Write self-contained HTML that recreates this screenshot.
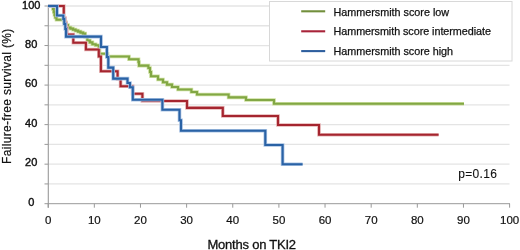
<!DOCTYPE html>
<html><head><meta charset="utf-8"><style>
html,body{margin:0;padding:0;background:#fff;}
body{width:520px;height:250px;overflow:hidden;}
svg{display:block;}
text{font-family:"Liberation Sans",Arial,sans-serif;fill:#111;stroke:#111;stroke-width:0.2px;}
.leg{font-size:10.8px;stroke-width:0.25px;}
.yl{font-size:11px;text-anchor:middle;stroke-width:0.4px;}
.xl{font-size:11.5px;text-anchor:middle;}
.xt{font-size:13px;text-anchor:middle;stroke-width:0.3px;}
.yt{font-size:12px;text-anchor:middle;letter-spacing:0.33px;}
.pv{font-size:12px;letter-spacing:0.3px;stroke-width:0.1px;}
</style></head><body>
<svg width="520" height="250" viewBox="0 0 520 250">
<line x1="48.8" y1="183.93" x2="509.5" y2="183.93" stroke="#e4e4e4" stroke-width="1.3"/>
<line x1="48.8" y1="164.16" x2="509.5" y2="164.16" stroke="#e4e4e4" stroke-width="1.3"/>
<line x1="48.8" y1="144.39" x2="509.5" y2="144.39" stroke="#e4e4e4" stroke-width="1.3"/>
<line x1="48.8" y1="124.62" x2="509.5" y2="124.62" stroke="#e4e4e4" stroke-width="1.3"/>
<line x1="48.8" y1="104.85" x2="509.5" y2="104.85" stroke="#e4e4e4" stroke-width="1.3"/>
<line x1="48.8" y1="85.08" x2="509.5" y2="85.08" stroke="#e4e4e4" stroke-width="1.3"/>
<line x1="48.8" y1="65.31" x2="509.5" y2="65.31" stroke="#e4e4e4" stroke-width="1.3"/>
<line x1="48.8" y1="45.54" x2="509.5" y2="45.54" stroke="#e4e4e4" stroke-width="1.3"/>
<line x1="48.8" y1="25.77" x2="509.5" y2="25.77" stroke="#e4e4e4" stroke-width="1.3"/>
<line x1="48.8" y1="6.00" x2="509.5" y2="6.00" stroke="#e4e4e4" stroke-width="1.3"/>
<line x1="44.5" y1="203.70" x2="48.3" y2="203.70" stroke="#999999" stroke-width="1"/>
<line x1="44.5" y1="183.93" x2="48.3" y2="183.93" stroke="#999999" stroke-width="1"/>
<line x1="44.5" y1="164.16" x2="48.3" y2="164.16" stroke="#999999" stroke-width="1"/>
<line x1="44.5" y1="144.39" x2="48.3" y2="144.39" stroke="#999999" stroke-width="1"/>
<line x1="44.5" y1="124.62" x2="48.3" y2="124.62" stroke="#999999" stroke-width="1"/>
<line x1="44.5" y1="104.85" x2="48.3" y2="104.85" stroke="#999999" stroke-width="1"/>
<line x1="44.5" y1="85.08" x2="48.3" y2="85.08" stroke="#999999" stroke-width="1"/>
<line x1="44.5" y1="65.31" x2="48.3" y2="65.31" stroke="#999999" stroke-width="1"/>
<line x1="44.5" y1="45.54" x2="48.3" y2="45.54" stroke="#999999" stroke-width="1"/>
<line x1="44.5" y1="25.77" x2="48.3" y2="25.77" stroke="#999999" stroke-width="1"/>
<line x1="44.5" y1="6.00" x2="48.3" y2="6.00" stroke="#999999" stroke-width="1"/>
<line x1="48.20" y1="203.70" x2="48.20" y2="207.7" stroke="#999999" stroke-width="1"/>
<line x1="94.34" y1="203.70" x2="94.34" y2="207.7" stroke="#999999" stroke-width="1"/>
<line x1="140.48" y1="203.70" x2="140.48" y2="207.7" stroke="#999999" stroke-width="1"/>
<line x1="186.62" y1="203.70" x2="186.62" y2="207.7" stroke="#999999" stroke-width="1"/>
<line x1="232.76" y1="203.70" x2="232.76" y2="207.7" stroke="#999999" stroke-width="1"/>
<line x1="278.90" y1="203.70" x2="278.90" y2="207.7" stroke="#999999" stroke-width="1"/>
<line x1="325.04" y1="203.70" x2="325.04" y2="207.7" stroke="#999999" stroke-width="1"/>
<line x1="371.18" y1="203.70" x2="371.18" y2="207.7" stroke="#999999" stroke-width="1"/>
<line x1="417.32" y1="203.70" x2="417.32" y2="207.7" stroke="#999999" stroke-width="1"/>
<line x1="463.46" y1="203.70" x2="463.46" y2="207.7" stroke="#999999" stroke-width="1"/>
<line x1="509.60" y1="203.70" x2="509.60" y2="207.7" stroke="#999999" stroke-width="1"/>
<line x1="48.3" y1="6.0" x2="48.3" y2="207.7" stroke="#999999" stroke-width="1.1"/>
<line x1="48" y1="203.70" x2="510" y2="203.70" stroke="#999999" stroke-width="1"/>
<polyline points="48,6 53,6 53,9 53.8,9 53.8,12 54.5,12 54.5,15 55.3,15 55.3,17.5 56.5,17.5 56.5,19.8 62,19.8 64,19.8 64,22.4 66,22.4 66,25 68,25 68,27.6 70.5,27.6 70.5,28.6 73,28.6 73,29.6 75.5,29.6 75.5,30.6 78,30.6 78,31.6 80.5,31.6 80.5,32.6 83,32.6 83,33.6 85.15,33.6 85.15,37.05 87.3,37.05 87.3,40.5 89.85,40.5 89.85,42.4 92.4,42.4 92.4,44.3 95.6,44.3 95.6,45.3 98.8,45.3 98.8,46.3 99.5,46.3 99.5,53.8 107.5,53.8 107.5,56.5 129,56.5 129,59.2 138.5,59.2 138.5,62 139,62 139,65.6 148.4,65.6 148.4,68 150,68 150,72 151,72 151,76.2 158,76.2 158,79.5 163,79.5 163,82.2 167,82.2 167,84.6 172,84.6 172,87 178,87 178,89.5 191.4,89.5 191.4,92 197,92 197,94.5 228.6,94.5 228.6,97.4 246,97.4 246,100 274,100 274,103.8 464,103.8" fill="none" stroke="#cde0a0" stroke-width="3.6" stroke-linejoin="miter" stroke-linecap="butt"/>
<polyline points="48,6 53,6 53,9 53.8,9 53.8,12 54.5,12 54.5,15 55.3,15 55.3,17.5 56.5,17.5 56.5,19.8 62,19.8 64,19.8 64,22.4 66,22.4 66,25 68,25 68,27.6 70.5,27.6 70.5,28.6 73,28.6 73,29.6 75.5,29.6 75.5,30.6 78,30.6 78,31.6 80.5,31.6 80.5,32.6 83,32.6 83,33.6 85.15,33.6 85.15,37.05 87.3,37.05 87.3,40.5 89.85,40.5 89.85,42.4 92.4,42.4 92.4,44.3 95.6,44.3 95.6,45.3 98.8,45.3 98.8,46.3 99.5,46.3 99.5,53.8 107.5,53.8 107.5,56.5 129,56.5 129,59.2 138.5,59.2 138.5,62 139,62 139,65.6 148.4,65.6 148.4,68 150,68 150,72 151,72 151,76.2 158,76.2 158,79.5 163,79.5 163,82.2 167,82.2 167,84.6 172,84.6 172,87 178,87 178,89.5 191.4,89.5 191.4,92 197,92 197,94.5 228.6,94.5 228.6,97.4 246,97.4 246,100 274,100 274,103.8 464,103.8" fill="none" stroke="#82a744" stroke-width="2.1" stroke-linejoin="miter" stroke-linecap="butt"/>
<polyline points="48,6 63.8,6 63.8,18 65,18 65,23 66,23 66,28 66.9,28 66.9,34.6 73.3,34.6 73.3,42.8 85.9,42.8 85.9,49.5 98.8,49.5 98.8,56.5 100.9,56.5 100.9,71.2 117.6,71.2 117.6,79 120.6,79 120.6,86.3 132.6,86.3 132.6,93.7 142.4,93.7 142.4,101 187,101 187,107.9 222.8,107.9 222.8,116 278,116 278,125 319,125 319,134.7 438.6,134.7" fill="none" stroke="#e6b4b4" stroke-width="3.6" stroke-linejoin="miter" stroke-linecap="butt"/>
<polyline points="48,6 63.8,6 63.8,18 65,18 65,23 66,23 66,28 66.9,28 66.9,34.6 73.3,34.6 73.3,42.8 85.9,42.8 85.9,49.5 98.8,49.5 98.8,56.5 100.9,56.5 100.9,71.2 117.6,71.2 117.6,79 120.6,79 120.6,86.3 132.6,86.3 132.6,93.7 142.4,93.7 142.4,101 187,101 187,107.9 222.8,107.9 222.8,116 278,116 278,125 319,125 319,134.7 438.6,134.7" fill="none" stroke="#a5252f" stroke-width="2.1" stroke-linejoin="miter" stroke-linecap="butt"/>
<polyline points="48,6 57,6 57,15.5 63.3,15.5 63.3,19 64.3,19 64.3,24 65.3,24 65.3,29 66,29 66,36.6 101,36.6 101,47 106.9,47 106.9,57 108.3,57 108.3,67.6 113.2,67.6 113.2,78.6 127.5,78.6 127.5,83 130,83 130,87.3 132.8,87.3 132.8,99.7 162.4,99.7 162.4,109.8 179.5,109.8 179.5,120.3 181,120.3 181,130.8 265.3,130.8 265.3,145 282.6,145 282.6,164.2 302.6,164.2" fill="none" stroke="#aac4e4" stroke-width="3.6" stroke-linejoin="miter" stroke-linecap="butt"/>
<polyline points="48,6 57,6 57,15.5 63.3,15.5 63.3,19 64.3,19 64.3,24 65.3,24 65.3,29 66,29 66,36.6 101,36.6 101,47 106.9,47 106.9,57 108.3,57 108.3,67.6 113.2,67.6 113.2,78.6 127.5,78.6 127.5,83 130,83 130,87.3 132.8,87.3 132.8,99.7 162.4,99.7 162.4,109.8 179.5,109.8 179.5,120.3 181,120.3 181,130.8 265.3,130.8 265.3,145 282.6,145 282.6,164.2 302.6,164.2" fill="none" stroke="#2a62a5" stroke-width="2.1" stroke-linejoin="miter" stroke-linecap="butt"/>
<rect x="269.5" y="1.5" width="242.5" height="59.5" fill="#fff" stroke="#d8d8d8" stroke-width="1"/>
<line x1="301.2" y1="11.30" x2="325.2" y2="11.30" stroke="#728f3c" stroke-width="2.1"/>
<text x="333.5" y="15.80" class="leg" textLength="115.6" lengthAdjust="spacing">Hammersmith score low</text>
<line x1="301.2" y1="31.30" x2="325.2" y2="31.30" stroke="#a8243a" stroke-width="2.1"/>
<text x="333.5" y="34.90" class="leg" textLength="157.4" lengthAdjust="spacing">Hammersmith score intermediate</text>
<line x1="301.2" y1="51.10" x2="325.2" y2="51.10" stroke="#2d5e9e" stroke-width="2.1"/>
<text x="333.5" y="55.20" class="leg" textLength="119.6" lengthAdjust="spacing">Hammersmith score high</text>
<text x="31.2" y="205.80" class="yl">0</text>
<text x="31.2" y="166.26" class="yl">20</text>
<text x="31.2" y="126.72" class="yl">40</text>
<text x="31.2" y="87.18" class="yl">60</text>
<text x="31.2" y="47.64" class="yl">80</text>
<text x="31.2" y="8.70" class="yl">100</text>
<text x="48.20" y="223.8" class="xl">0</text>
<text x="94.34" y="223.8" class="xl">10</text>
<text x="140.48" y="223.8" class="xl">20</text>
<text x="186.62" y="223.8" class="xl">30</text>
<text x="232.76" y="223.8" class="xl">40</text>
<text x="278.90" y="223.8" class="xl">50</text>
<text x="325.04" y="223.8" class="xl">60</text>
<text x="371.18" y="223.8" class="xl">70</text>
<text x="417.32" y="223.8" class="xl">80</text>
<text x="463.46" y="223.8" class="xl">90</text>
<text x="509.60" y="223.8" class="xl">100</text>
<text x="251.8" y="248.5" class="xt" textLength="88.6" lengthAdjust="spacing">Months on TKI2</text>
<text transform="translate(10.7,96.2) rotate(-90)" x="0" y="0" class="yt">Failure-free survival (%)</text>
<text x="458.3" y="177.9" class="pv">p=0.16</text>
</svg>
</body></html>
